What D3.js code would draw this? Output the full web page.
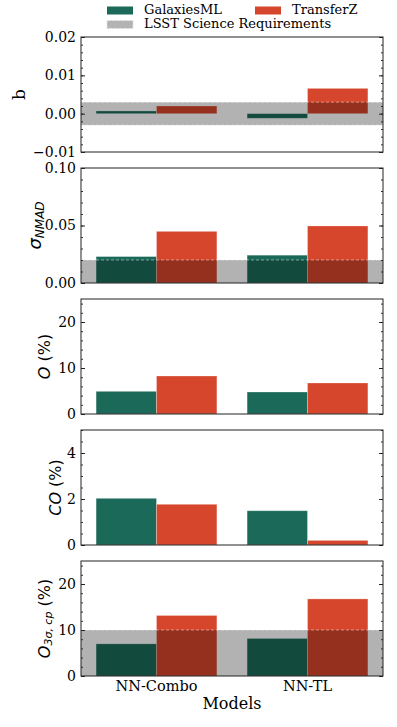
<!DOCTYPE html>
<html>
<head>
<meta charset="utf-8">
<script src="https://cdn.jsdelivr.net/npm/d3@7"></script>
<style>
  body { margin: 0; background: #fff; }
  svg { display: block; }
  .tick text { font-family: "DejaVu Serif", serif; font-size: 14px; fill: #000; }
</style>
</head>
<body>
<div id="chart"></div>
<script>
// categories and series
const models = ["NN-Combo", "NN-TL"];
const seriesNames = ["GalaxiesML", "TransferZ"];

// values (GalaxiesML, TransferZ) per model
const biasGalaxies = [0.0007, -0.0012];
const biasTransferZ = [0.002, 0.0066];
const nmadGalaxies = [0.023, 0.0242];
const nmadTransferZ = [0.0449, 0.0496];
const outlierGalaxies = [4.93, 4.78];
const outlierTransferZ = [8.26, 6.74];
const catastrophicGalaxies = [2.03, 1.49];
const catastrophicTransferZ = [1.77, 0.2];
const o3sigmaGalaxies = [6.99, 8.16];
const o3sigmaTransferZ = [13.16, 16.76];

// LSST requirement bands [low, high]
const biasReq = [-0.003, 0.003];
const nmadReq = [0, 0.02];
const o3sigmaReq = [0, 10];

// y-axis tick labels
const biasTicks = [-0.01, 0.00, 0.01, 0.02];
const nmadTicks = [0.00, 0.05, 0.10];
const outlierTicks = [0, 10, 20];
const catastrophicTicks = [0, 2, 4];
const o3sigmaTicks = [0, 10, 20];

const colors = { GalaxiesML: "#1b6a59", TransferZ: "#d6462c" };

const width = 397, height = 727;
const left = 81, right = 383;
const panelH = 115;
const panelTops = [37, 168, 299, 430, 561];

const panels = [
  { vals: [biasGalaxies, biasTransferZ], domain: [-0.01, 0.02], ticks: biasTicks, minor: 0.002,
    fmt: d => d3.format(".2f")(d).replace("-", "\u2212"), band: biasReq, labelX: 20, label: "b" },
  { vals: [nmadGalaxies, nmadTransferZ], domain: [0, 0.1], ticks: nmadTicks, minor: 0.01,
    fmt: d3.format(".2f"), band: nmadReq, labelX: 36, label: "nmad" },
  { vals: [outlierGalaxies, outlierTransferZ], domain: [0, 25], ticks: outlierTicks, minor: 2,
    fmt: d3.format("d"), band: null, labelX: 45, label: "O" },
  { vals: [catastrophicGalaxies, catastrophicTransferZ], domain: [0, 5], ticks: catastrophicTicks, minor: 0.5,
    fmt: d3.format("d"), band: null, labelX: 56, label: "CO" },
  { vals: [o3sigmaGalaxies, o3sigmaTransferZ], domain: [0, 25], ticks: o3sigmaTicks, minor: 2,
    fmt: d3.format("d"), band: o3sigmaReq, labelX: 45, label: "O3" }
];

const svg = d3.select("#chart").append("svg").attr("width", width).attr("height", height);

// x scales
const x0 = d3.scaleBand().domain(models).range([left, right]).paddingInner(0.2).paddingOuter(0.1);
const x1 = d3.scaleBand().domain(seriesNames).range([0, x0.bandwidth()]).padding(0);

panels.forEach((p, i) => {
  const top = panelTops[i], bottom = top + panelH;
  const y = d3.scaleLinear().domain(p.domain).range([bottom, top]);
  const g = svg.append("g");

  // bars
  const rows = models.map((m, mi) => ({ model: m, values: seriesNames.map((s, si) => ({ s, v: p.vals[si][mi] })) }));
  g.selectAll("g.grp").data(rows).enter().append("g")
    .attr("transform", d => `translate(${x0(d.model)},0)`)
    .selectAll("rect").data(d => d.values).enter().append("rect")
    .attr("x", d => x1(d.s))
    .attr("width", x1.bandwidth())
    .attr("y", d => y(Math.max(0, d.v)))
    .attr("height", d => Math.abs(y(d.v) - y(0)))
    .attr("fill", d => colors[d.s])
    .attr("stroke", "#fff").attr("stroke-opacity", 0.35).attr("stroke-width", 0.8);

  // requirement band
  if (p.band) {
    g.append("rect")
      .attr("x", left).attr("width", right - left)
      .attr("y", y(p.band[1])).attr("height", y(p.band[0]) - y(p.band[1]))
      .attr("fill", "#000").attr("fill-opacity", 0.3);
    p.band.forEach(b => {
      if (y(b) >= bottom - 0.5) return;
      g.append("line").attr("x1", left).attr("x2", right).attr("y1", y(b)).attr("y2", y(b))
        .attr("stroke", "#fff").attr("stroke-opacity", 0.45).attr("stroke-width", 1).attr("stroke-dasharray", "3,2");
    });
  }

  // minor ticks
  const minorVals = d3.range(p.domain[0], p.domain[1] + p.minor / 2, p.minor);
  g.append("g").attr("transform", `translate(${left},0)`)
    .call(d3.axisLeft(y).tickValues(minorVals).tickSize(-2).tickFormat(""))
    .call(a => a.select(".domain").remove()).selectAll("line").attr("stroke", "#333");
  g.append("g").attr("transform", `translate(${right},0)`)
    .call(d3.axisRight(y).tickValues(minorVals).tickSize(-2).tickFormat(""))
    .call(a => a.select(".domain").remove()).selectAll("line").attr("stroke", "#333");

  // major ticks
  g.append("g").attr("transform", `translate(${left},0)`)
    .call(d3.axisLeft(y).tickValues(p.ticks).tickSize(-4).tickPadding(5).tickFormat(p.fmt))
    .call(a => a.select(".domain").remove()).selectAll("line").attr("stroke", "#222");
  g.append("g").attr("transform", `translate(${right},0)`)
    .call(d3.axisRight(y).tickValues(p.ticks).tickSize(-4).tickFormat(""))
    .call(a => a.select(".domain").remove()).selectAll("line").attr("stroke", "#222");

  // frame
  g.append("rect").attr("x", left).attr("y", top).attr("width", right - left).attr("height", panelH)
    .attr("fill", "none").attr("stroke", "#222").attr("stroke-width", 1);

  // y label
  const cy = (top + bottom) / 2;
  const t = g.append("text")
    .attr("transform", `translate(${p.labelX},${cy}) rotate(-90)`)
    .attr("text-anchor", "middle").attr("dominant-baseline", "middle")
    .attr("fill", "#000");
  if (p.label === "b") {
    t.attr("font-family", "DejaVu Serif").attr("font-size", 17).text("b");
  } else if (p.label === "nmad") {
    t.attr("font-family", "DejaVu Sans").attr("font-size", 18);
    t.append("tspan").attr("font-style", "italic").text("\u03c3");
    t.append("tspan").attr("font-style", "italic").attr("font-size", 12).attr("dy", 4).text("NMAD");
  } else if (p.label === "O") {
    t.attr("font-family", "DejaVu Sans").attr("font-size", 16);
    t.append("tspan").attr("font-style", "italic").text("O");
    t.append("tspan").text(" (%)");
  } else if (p.label === "CO") {
    t.attr("font-family", "DejaVu Sans").attr("font-size", 16);
    t.append("tspan").attr("font-style", "italic").text("CO");
    t.append("tspan").text(" (%)");
  } else {
    t.attr("font-family", "DejaVu Sans").attr("font-size", 16);
    t.append("tspan").attr("font-style", "italic").text("O");
    t.append("tspan").attr("font-style", "italic").attr("font-size", 11).attr("dy", 4).text("3\u03c3, cp");
    t.append("tspan").attr("dy", -4).text(" (%)");
  }

  // x category labels on last panel
  if (i === panels.length - 1) {
    g.append("g").attr("transform", `translate(0,${bottom})`)
      .call(d3.axisBottom(x0).tickSize(0).tickPadding(5))
      .call(a => a.select(".domain").remove())
      .selectAll("text").style("font-size", "14.5px");
    g.append("text").attr("x", (left + right) / 2).attr("y", 709)
      .attr("text-anchor", "middle").attr("font-family", "DejaVu Serif").attr("font-size", 16)
      .attr("fill", "#000").text("Models");
  }
});

// legend
const legend = svg.append("g").attr("font-family", "DejaVu Serif").attr("font-size", 13).attr("fill", "#000");
const legendItems = [
  { name: seriesNames[0], x: 107, y: 10.5, fill: colors.GalaxiesML },
  { name: seriesNames[1], x: 255, y: 10.5, fill: colors.TransferZ },
  { name: "LSST Science Requirements", x: 107, y: 24.5, fill: "#b3b3b3", dashed: true }
];
legendItems.forEach(d => {
  legend.append("rect").attr("x", d.x).attr("y", d.y - 4).attr("width", 26).attr("height", 8)
    .attr("fill", d.fill)
    .attr("stroke", d.dashed ? "#e4e4e4" : "none").attr("stroke-dasharray", d.dashed ? "3,2" : null);
  legend.append("text").attr("x", d.x + 37).attr("y", d.y).attr("dominant-baseline", "middle").text(d.name);
});
</script>
</body>
</html>
